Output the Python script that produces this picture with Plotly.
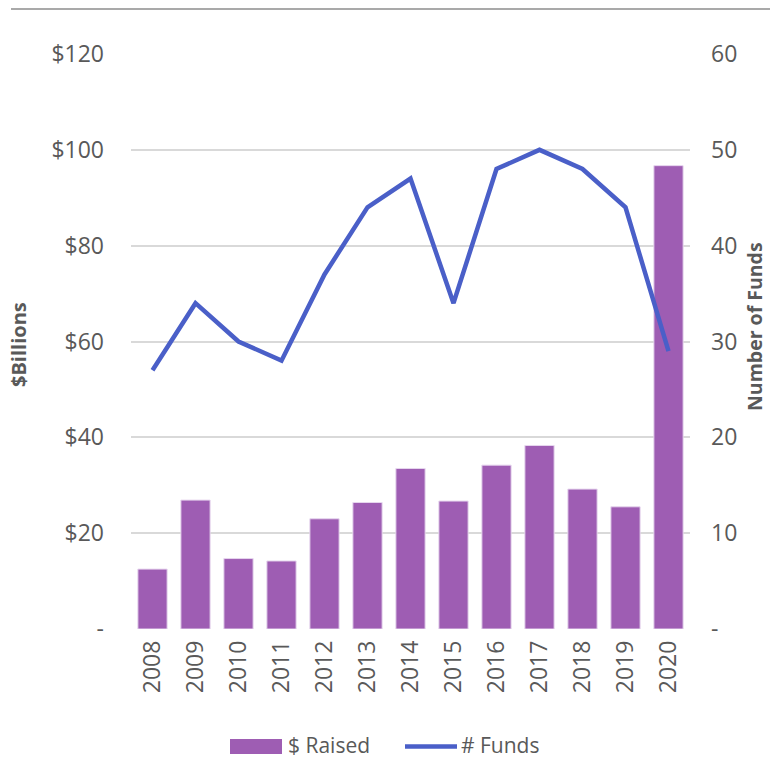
import plotly.graph_objects as go

years = ["2008", "2009", "2010", "2011", "2012", "2013", "2014", "2015", "2016", "2017", "2018", "2019", "2020"]
raised = [12.5, 26.9, 14.7, 14.2, 23.0, 26.4, 33.5, 26.7, 34.2, 38.3, 29.2, 25.5, 96.7]
funds = [27, 34, 30, 28, 37, 44, 47, 34, 48, 50, 48, 44, 29]

left_ticks = [0, 20, 40, 60, 80, 100, 120]
left_text = ["-", "$20", "$40", "$60", "$80", "$100", "$120"]
right_ticks = [0, 10, 20, 30, 40, 50, 60]
right_text = ["-", "10", "20", "30", "40", "50", "60"]

FONT = "Open Sans"
GREY = "#595959"
BAR = "#9e5db3"
LINE = "#4a5fc8"

# plot-area geometry in pixels
L, R, T, B = 131, 690, 54, 629
W, H = R - L, B - T


def px(x):
    return (x - L) / W


def py(y):
    return (B - y) / H


fig = go.Figure()
fig.add_trace(go.Bar(x=years, y=raised, name="$ Raised",
                     marker=dict(color=BAR, line=dict(color="#e6d6ee", width=1)), yaxis="y"))
fig.add_trace(go.Scatter(x=years, y=funds, name="# Funds", mode="lines",
                         line=dict(color=LINE, width=4.5), yaxis="y2"))

fig.update_layout(
    width=770, height=759,
    margin=dict(l=L, r=770 - R, t=T, b=759 - B),
    paper_bgcolor="white", plot_bgcolor="white",
    font=dict(family=FONT, color=GREY, size=23),
    bargap=0.32,
    showlegend=False,
    xaxis=dict(tickangle=-90, showgrid=False, ticks="", showline=False, automargin=False,
               ticklabelstandoff=6, tickfont=dict(size=23, color=GREY)),
    yaxis=dict(range=[0, 120], tickvals=left_ticks, ticktext=left_text, showgrid=True, gridcolor="#d9d9d9",
               gridwidth=1.5, zeroline=False, showline=False, ticks="", automargin=False,
               ticklabelstandoff=26, tickfont=dict(size=23, color=GREY)),
    yaxis2=dict(range=[0, 60], tickvals=right_ticks, ticktext=right_text, overlaying="y", side="right",
                showgrid=False, zeroline=False, showline=False, ticks="", automargin=False,
                ticklabelstandoff=20, tickfont=dict(size=23, color=GREY)),
    shapes=[
        dict(type="line", xref="paper", yref="paper", x0=px(11), x1=px(772), y0=py(9), y1=py(9),
             line=dict(color="#8c8c8c", width=1.5)),
        # legend swatches
        dict(type="rect", xref="paper", yref="paper", x0=px(230), x1=px(282), y0=py(739), y1=py(754),
             fillcolor=BAR, line=dict(width=0)),
        dict(type="line", xref="paper", yref="paper", x0=px(405), x1=px(457), y0=py(746.5), y1=py(746.5),
             line=dict(color=LINE, width=4.5)),
    ],
    annotations=[
        dict(text="<b>$Billions</b>", xref="paper", yref="paper", x=px(18), y=py(345),
             textangle=-90, showarrow=False, font=dict(size=20, color=GREY), xanchor="center", yanchor="middle"),
        dict(text="<b>Number of Funds</b>", xref="paper", yref="paper", x=px(754), y=py(327),
             textangle=-90, showarrow=False, font=dict(size=19.5, color=GREY), xanchor="center", yanchor="middle"),
        dict(text="$ Raised", xref="paper", yref="paper", x=px(286), y=py(745), showarrow=False,
             xanchor="left", yanchor="middle", font=dict(size=21, color=GREY)),
        dict(text="# Funds", xref="paper", yref="paper", x=px(459), y=py(745), showarrow=False,
             xanchor="left", yanchor="middle", font=dict(size=21, color=GREY)),
    ],
)

fig.write_html("out.html", config={"displayModeBar": False},
               post_script="document.body.style.margin='0';")
